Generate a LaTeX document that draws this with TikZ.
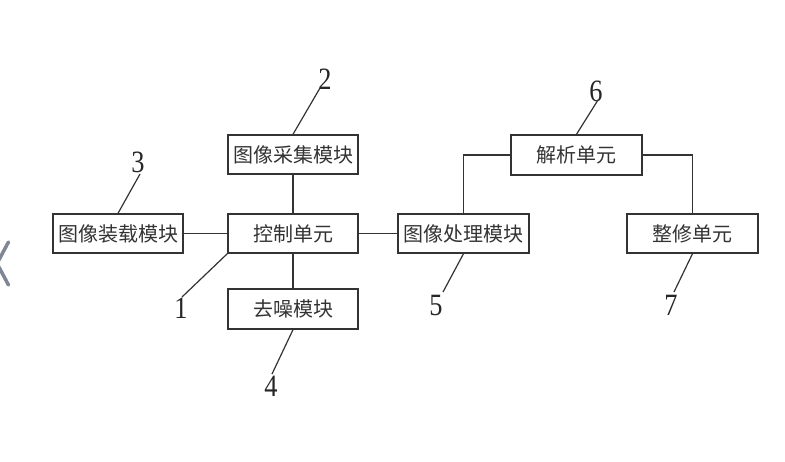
\documentclass[tikz,border=0pt]{standalone}
\usepackage{fontspec}
\setmainfont{Liberation Serif}
\newfontfamily\cjk{Noto Sans CJK SC}
\definecolor{chev}{RGB}{128,135,148}
\begin{document}
\begin{tikzpicture}[x=1pt,y=-1pt,
  box/.style={draw=black!80,line width=1.4pt,rectangle,minimum width=130pt,minimum height=39pt,inner sep=0pt,font=\cjk\fontsize{20}{22}\selectfont,text=black!80},
  num/.style={inner sep=0pt,font=\fontsize{31}{31}\selectfont,text=black!85,xscale=0.85},
  wire/.style={draw=black!80,line width=1.4pt},
  lead/.style={draw=black!80,line width=1.2pt}]
\useasboundingbox (0,0) rectangle (785,461);
\fill[white] (0,0) rectangle (785,461);
% chevron artifact
\begin{scope}
\clip (0,0) rectangle (785,461);
\draw[chev,line width=3.5pt,line cap=round,line join=round] (8.5,242) -- (-3,263.5) -- (8.5,285);
\end{scope}
% boxes
\node[box] (acq) at (293,154.5) {图像采集模块};
\node[box] (ctrl) at (293,233.5) {控制单元};
\node[box] (load) at (118,233.5) {图像装载模块};
\node[box,minimum height=40pt] (den) at (293,309) {去噪模块};
\node[box,minimum width=131pt,minimum height=40pt] (ana) at (576.5,155) {解析单元};
\node[box,minimum width=131pt] (proc) at (463.5,233.5) {图像处理模块};
\node[box,minimum width=131pt] (fix) at (692.5,233.5) {整修单元};
% connectors
\draw[wire] (load.east) -- (ctrl.west);
\draw[wire] (acq.south) -- (ctrl.north);
\draw[wire] (ctrl.south) -- (den.north);
\draw[wire] (ctrl.east) -- (proc.west);
\draw[wire] (proc.north) |- (ana.west);
\draw[wire] (ana.east) -| (fix.north);
% labels
\node[num] (l1) at (181,308) {1};
\node[num] (l2) at (325,79) {2};
\node[num] (l3) at (138,162) {3};
\node[num] (l4) at (271,386) {4};
\node[num] (l5) at (436,305) {5};
\node[num] (l6) at (596,91) {6};
\node[num] (l7) at (671,305) {7};
\coordinate (e1) at (182,297);
\coordinate (e2) at (320,88);
\coordinate (e3) at (140,174);
\coordinate (e4) at (272,374);
\coordinate (e5) at (443,292);
\coordinate (e6) at (598,100);
\coordinate (e7) at (674,292);
\draw[lead] (ctrl.south west) -- (e1);
\draw[lead] (acq.north) -- (e2);
\draw[lead] (load.north) -- (e3);
\draw[lead] (den.south) -- (e4);
\draw[lead] (proc.south) -- (e5);
\draw[lead] (ana.north) -- (e6);
\draw[lead] (fix.south) -- (e7);
\end{tikzpicture}
\end{document}
